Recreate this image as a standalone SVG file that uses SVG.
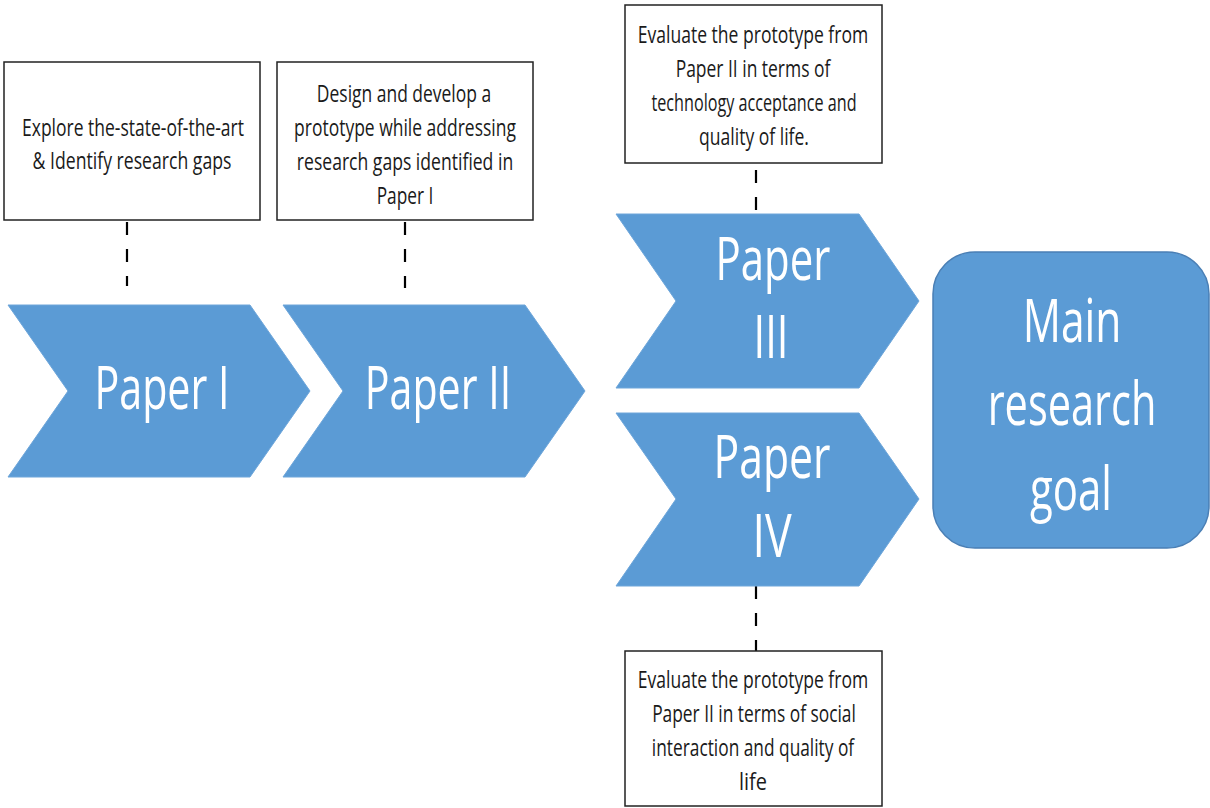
<svg xmlns="http://www.w3.org/2000/svg" width="1210" height="808" viewBox="0 0 1210 808">
<style>
.chev{fill:#5b9bd5;stroke:#6ea6da;stroke-width:1}
.goal{fill:#5b9bd5;stroke:#4a7fb5;stroke-width:1.5}
.box{fill:#ffffff;stroke:#222222;stroke-width:1.5}
.big{font-family:"Open Sans","Noto Sans",sans-serif;font-size:60px;fill:#ffffff;text-anchor:middle}
.small{font-family:"Open Sans","Noto Sans",sans-serif;font-size:24px;fill:#1a1a1a;text-anchor:middle}
.dash{stroke:#000000;stroke-width:2.2;stroke-dasharray:13 14;fill:none}
</style>
<rect width="1210" height="808" fill="#ffffff"/>
<g id="connectors">
<line class="dash" x1="127" y1="222" x2="127" y2="286"/>
<line class="dash" x1="405" y1="222" x2="405" y2="288"/>
<line class="dash" x1="756" y1="170" x2="756" y2="212"/>
<line class="dash" x1="756" y1="586" x2="756" y2="651"/>
</g>
<g id="paper1">
<path class="chev" d="M8,305 L250,305 L310,391 L250,477 L8,477 L68,391 Z"/>
<text class="big" transform="translate(162,409) scale(0.7,1)" textLength="193" lengthAdjust="spacingAndGlyphs">Paper I</text>
</g>
<g id="paper2">
<path class="chev" d="M283,305 L525,305 L585,391 L525,477 L283,477 L343,391 Z"/>
<text class="big" transform="translate(438,409) scale(0.7,1)" textLength="209" lengthAdjust="spacingAndGlyphs">Paper II</text>
</g>
<g id="paper3">
<path class="chev" d="M616,214 L859,214 L919,301 L859,388 L616,388 L676,301 Z"/>
<text class="big" transform="translate(773,280) scale(0.7,1)" textLength="164" lengthAdjust="spacingAndGlyphs">Paper</text>
<text class="big" transform="translate(771,358) scale(0.7,1)" textLength="50" lengthAdjust="spacingAndGlyphs">III</text>
</g>
<g id="paper4">
<path class="chev" d="M616,413 L859,413 L919,499 L859,586 L616,586 L676,499 Z"/>
<text class="big" transform="translate(772,478) scale(0.7,1)" textLength="167" lengthAdjust="spacingAndGlyphs">Paper</text>
<text class="big" transform="translate(772,557) scale(0.7,1)" textLength="56" lengthAdjust="spacingAndGlyphs">IV</text>
</g>
<g id="main-goal">
<rect class="goal" x="933" y="252" width="276" height="296" rx="42" ry="42"/>
<text class="big" transform="translate(1072,342) scale(0.7,1)" textLength="141" lengthAdjust="spacingAndGlyphs">Main</text>
<text class="big" transform="translate(1072,425) scale(0.7,1)" textLength="241" lengthAdjust="spacingAndGlyphs">research</text>
<text class="big" transform="translate(1071,510) scale(0.7,1)" textLength="117" lengthAdjust="spacingAndGlyphs">goal</text>
</g>
<g id="box1">
<rect class="box" x="4" y="62" width="256" height="158"/>
<text class="small" transform="translate(133,136) scale(0.7,1)" textLength="317" lengthAdjust="spacingAndGlyphs">Explore the-state-of-the-art</text>
<text class="small" transform="translate(132,169) scale(0.7,1)" textLength="284" lengthAdjust="spacingAndGlyphs">&amp; Identify research gaps</text>
</g>
<g id="box2">
<rect class="box" x="277" y="62" width="256" height="158"/>
<text class="small" transform="translate(404,102) scale(0.7,1)" textLength="249" lengthAdjust="spacingAndGlyphs">Design and develop a</text>
<text class="small" transform="translate(405,136) scale(0.7,1)" textLength="317" lengthAdjust="spacingAndGlyphs">prototype while addressing</text>
<text class="small" transform="translate(405,170) scale(0.7,1)" textLength="309" lengthAdjust="spacingAndGlyphs">research gaps identified in</text>
<text class="small" transform="translate(405,204) scale(0.7,1)" textLength="81" lengthAdjust="spacingAndGlyphs">Paper I</text>
</g>
<g id="box3">
<rect class="box" x="625" y="5" width="257" height="158"/>
<text class="small" transform="translate(753,43) scale(0.7,1)" textLength="329" lengthAdjust="spacingAndGlyphs">Evaluate the prototype from</text>
<text class="small" transform="translate(753,77) scale(0.7,1)" textLength="221" lengthAdjust="spacingAndGlyphs">Paper II in terms of</text>
<text class="small" transform="translate(754,111) scale(0.7,1)" textLength="293" lengthAdjust="spacingAndGlyphs">technology acceptance and</text>
<text class="small" transform="translate(754,145) scale(0.7,1)" textLength="157" lengthAdjust="spacingAndGlyphs">quality of life.</text>
</g>
<g id="box4">
<rect class="box" x="625" y="651" width="257" height="155"/>
<text class="small" transform="translate(753,688) scale(0.7,1)" textLength="329" lengthAdjust="spacingAndGlyphs">Evaluate the prototype from</text>
<text class="small" transform="translate(754,722) scale(0.7,1)" textLength="291" lengthAdjust="spacingAndGlyphs">Paper II in terms of social</text>
<text class="small" transform="translate(753,756) scale(0.7,1)" textLength="289" lengthAdjust="spacingAndGlyphs">interaction and quality of</text>
<text class="small" transform="translate(753,790) scale(0.7,1)" textLength="40" lengthAdjust="spacingAndGlyphs">life</text>
</g>
</svg>
